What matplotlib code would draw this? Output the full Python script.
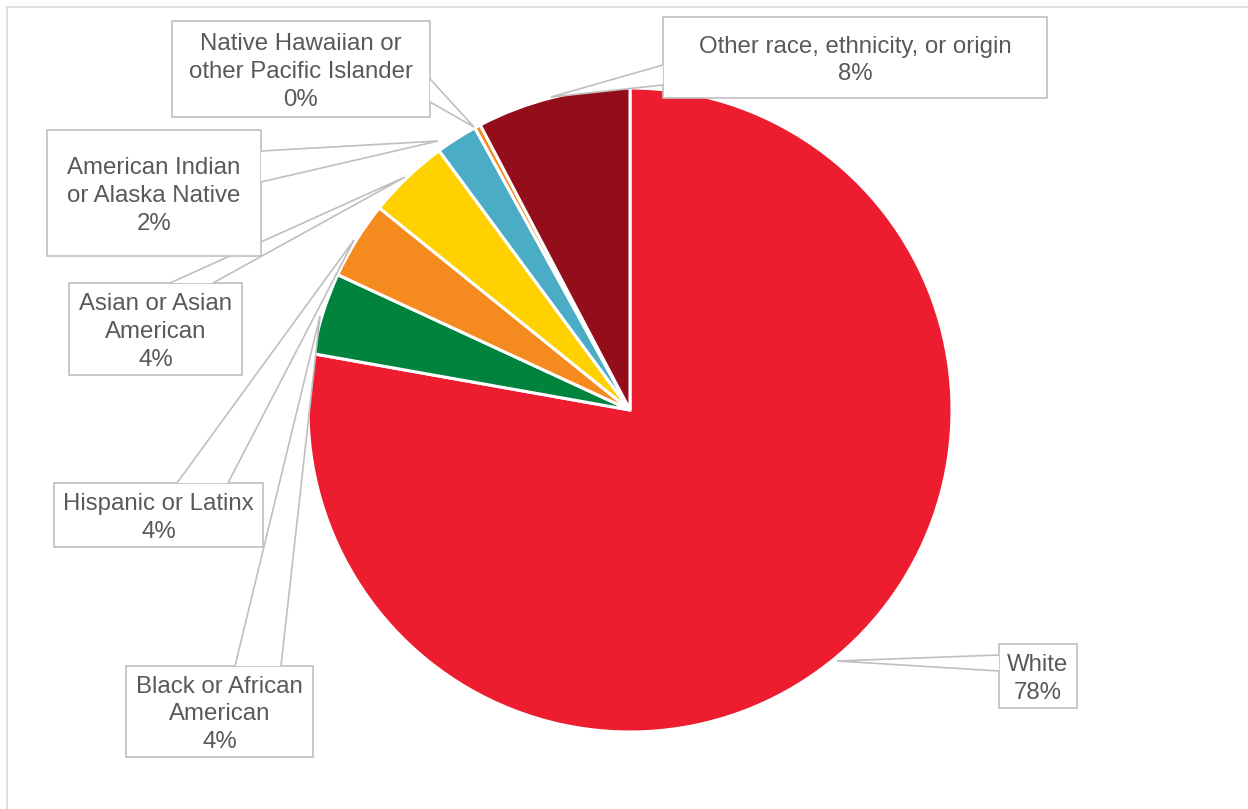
import matplotlib
matplotlib.use('Agg')
import matplotlib.pyplot as plt
from matplotlib.patches import Rectangle, Polygon

plt.rcParams['font.family'] = ['Liberation Sans', 'DejaVu Sans']

# data (clockwise from 12 o'clock)
categories = ['White', 'Black or African\nAmerican', 'Hispanic or Latinx',
              'Asian or Asian\nAmerican', 'American Indian\nor Alaska Native',
              'Native Hawaiian or\nother Pacific Islander',
              'Other race, ethnicity, or origin']
shares = [77.8, 4.1, 3.9, 4.1, 2.1, 0.3, 7.7]
colors = ['#ED1C2E', '#00843D', '#F58A1F', '#FFD100', '#4BACC6', '#F58A1F', '#930D1A']

W, H = 1248, 809

# callout layout in pixels (top-down): box x0, y0, x1, y1 / wedge base pts / tip
callouts = [
    ((999, 644, 1077, 708), [(999, 655), (999, 671)], (837, 661)),
    ((126, 666, 313, 757), [(235, 666), (281, 666)], (320, 316)),
    ((54, 483, 263, 547), [(177, 483), (228, 483)], (354, 240)),
    ((69, 283, 242, 375), [(170, 283), (213, 283)], (405, 177)),
    ((47, 130, 261, 256), [(261, 151), (261, 182)], (438, 141)),
    ((172, 21, 430, 117), [(430, 79), (430, 102)], (474, 127)),
    ((663, 17, 1047, 98), [(663, 65), (663, 85)], (551, 97)),
]


def fy(y):
    return H - y


fig = plt.figure(figsize=(W / 100, H / 100), dpi=100)
ax = fig.add_axes([0, 0, 1, 1])

ax.pie(shares, colors=colors, startangle=90, counterclock=False,
       center=(630, fy(410)), radius=322, frame=True,
       wedgeprops=dict(edgecolor='white', linewidth=2.2))

edge = '#BFBFBF'
for i, (cat, val, (box, base, tip)) in enumerate(zip(categories, shares, callouts)):
    z = 3 + i * 2
    x0, y0, x1, y1 = box
    ax.add_patch(Rectangle((x0, fy(y1)), x1 - x0, y1 - y0, fc='white',
                           ec=edge, lw=1.2, zorder=z))
    pts = [(base[0][0], fy(base[0][1])), (tip[0], fy(tip[1])),
           (base[1][0], fy(base[1][1]))]
    ax.add_patch(Polygon(pts, closed=False, fc='white', ec=edge, lw=1.2,
                         zorder=z + 0.5, joinstyle='miter'))
    ax.text((x0 + x1) / 2, fy((y0 + y1) / 2 + 3), f'{cat}\n{round(val)}%',
            ha='center', va='center', fontsize=17.3, color='#595959',
            linespacing=1.33, zorder=z + 1)

# chart area border
ax.plot([7, W], [fy(7), fy(7)], color='#D9D9D9', lw=1.2, zorder=20)
ax.plot([7, 7], [fy(7), 0], color='#D9D9D9', lw=1.2, zorder=20)

ax.set_xlim(0, W)
ax.set_ylim(0, H)
ax.set_aspect('auto')
ax.axis('off')

plt.savefig('out.png', dpi=100)
plt.close(fig)
